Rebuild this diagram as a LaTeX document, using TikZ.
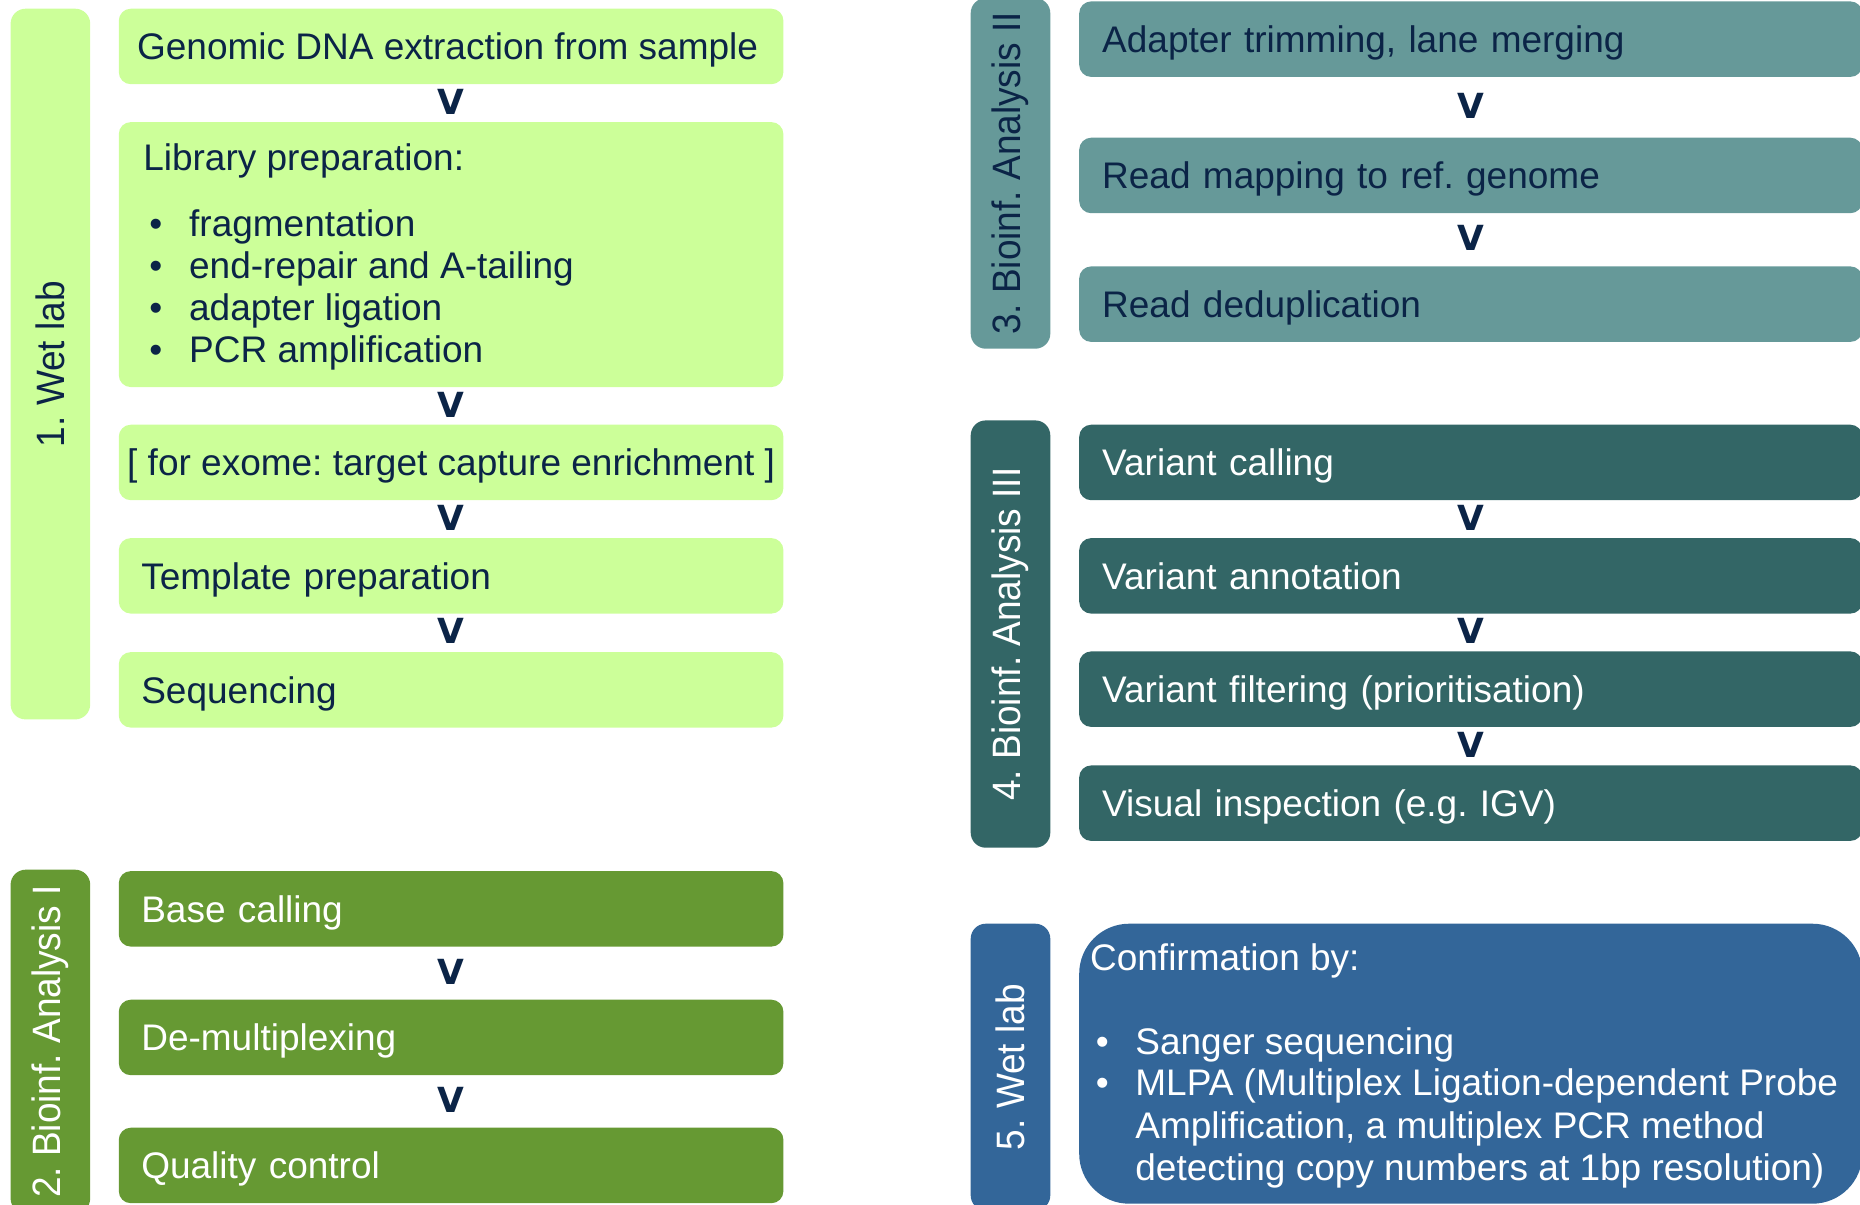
\documentclass[tikz,border=0pt]{standalone}
\usepackage{fontspec}
\setmainfont{Liberation Sans}
\newfontfamily\vmkfont{DejaVu Sans}
\usetikzlibrary{calc}
\definecolor{lgreen}{HTML}{CCFF99}
\definecolor{mgreen}{HTML}{669933}
\definecolor{tealc}{HTML}{669999}
\definecolor{dteal}{HTML}{336666}
\definecolor{blueb}{HTML}{336699}
\definecolor{navy}{HTML}{0B2447}
\newcommand\txtsize{\fontsize{18.5pt}{21pt}\selectfont}
\newcommand\vmksize{\vmkfont\fontsize{17.3pt}{19pt}\selectfont\bfseries}
\newcommand\labtxt[1]{\scalebox{1}[1.07]{#1}}
\frenchspacing
\begin{document}
\begin{tikzpicture}[x=0.5pt,y=-0.5pt,
  box/.style={anchor=north west, rounded corners=6pt, inner ysep=0pt,
    minimum height=37.75pt, align=left, font=\txtsize\frenchspacing,
    text height=13.3pt, text depth=0pt},
  lbox/.style={box, inner xsep=11.25pt, text width=309.8pt},
  rbox/.style={box, inner xsep=11.5pt, text width=368.6pt},
  bar/.style={anchor=north west, rounded corners=7.5pt, minimum width=39.8pt, inner sep=0pt},
  lab/.style={rotate=90, inner sep=0pt, font=\txtsize},
  txt/.style={anchor=base west, inner sep=0pt, font=\txtsize\frenchspacing},
  vmark/.style={font=\vmksize, text=navy, inner sep=0pt, yshift=0.75pt},
  lightbox/.style={fill=lgreen, text=navy},
  greenbox/.style={fill=mgreen, text=white},
  tealbox/.style={fill=tealc, text=navy},
  dtealbox/.style={fill=dteal, text=white},
  bluebox/.style={fill=blueb, text=white}]
\useasboundingbox (0,0) rectangle (1860,1205);
\clip (0,0) rectangle (1860,1205);

% ---- side bars
\node[bar, lightbox, minimum height=355.35pt] (bar1) at (10.2,8.3) {};
\node[lab, text=navy] (l1) at (bar1.center) {\labtxt{1. Wet lab}};
\node[bar, greenbox, minimum height=171.85pt] (bar2) at (10.2,869.3) {};
\node[lab, text=white] (l2) at (bar2.center) {\labtxt{2. Bioinf. Analysis I}};
\node[bar, tealbox, minimum height=175.3pt] (bar3) at (970.3,-2.3) {};
\node[lab, text=navy] (l3) at (bar3.center) {\labtxt{3. Bioinf. Analysis II}};
\node[bar, dtealbox, minimum height=213.65pt] (bar4) at (970.3,420) {};
\node[lab, text=white] (l4) at (bar4.center) {\labtxt{4. Bioinf. Analysis III}};
\node[bar, bluebox, minimum height=143.35pt] (bar5) at (970.3,923.3) {};
\node[lab, text=white] (l5) at (bar5.center) {\labtxt{5. Wet lab}};

% ---- left column: wet lab
\node[box, lightbox, inner xsep=9.15pt, minimum width=332.3pt] (gen) at (118.4,8.3) {\makebox[314pt][l]{Genomic DNA extraction from sample}};
\node[box, lightbox, minimum width=332.3pt, minimum height=132.5pt, text height=, text depth=] (lib) at (118.4,121.7) {};
\node[txt, text=navy] (libt) at (142.9,170.7) {Library preparation:};
\node[txt, text=navy] (li1) at (149,236.7) {\makebox[19.9pt][l]{•}fragmentation};
\node[txt, text=navy] (li2) at (149,278.3) {\makebox[19.9pt][l]{•}end-repair and A-tailing};
\node[txt, text=navy] (li3) at (149,320) {\makebox[19.9pt][l]{•}adapter ligation};
\node[txt, text=navy] (li4) at (149,362.7) {\makebox[19.9pt][l]{•}PCR amplification};
\node[box, lightbox, minimum width=332.3pt, inner xsep=0pt] (exo) at (118.4,424.3) {\makebox[332.3pt][c]{[ for exome: target capture enrichment ]}};
\node[lbox, lightbox] (tmp) at (118.4,537.7) {Template preparation};
\node[lbox, lightbox] (seq) at (118.4,651.7) {Sequencing};

\node[vmark] (v1) at ($(gen.south)!0.5!(lib.north)$) {V};
\node[vmark] (v2) at ($(lib.south)!0.5!(exo.north)$) {V};
\node[vmark] (v3) at ($(exo.south)!0.5!(tmp.north)$) {V};
\node[vmark] (v4) at ($(tmp.south)!0.5!(seq.north)$) {V};

% ---- left column: bioinf I
\node[lbox, greenbox] (base) at (118.4,870.7) {Base calling};
\node[lbox, greenbox] (demux) at (118.4,999.3) {De-multiplexing};
\node[lbox, greenbox] (qc) at (118.4,1127.3) {Quality control};
\node[vmark] (v5) at ($(base.south)!0.5!(demux.north)$) {V};
\node[vmark] (v6) at ($(demux.south)!0.5!(qc.north)$) {V};

% ---- right column: bioinf II
\node[rbox, tealbox] (adapt) at (1078.8,1) {Adapter trimming, lane merging};
\node[rbox, tealbox] (map) at (1078.8,137.3) {Read mapping to ref. genome};
\node[rbox, tealbox] (dedup) at (1078.8,266) {Read deduplication};
\node[vmark] (v7) at ($(adapt.south)!0.5!(map.north)$) {V};
\node[vmark] (v8) at ($(map.south)!0.5!(dedup.north)$) {V};

% ---- right column: bioinf III
\node[rbox, dtealbox] (vc) at (1078.8,424.3) {Variant calling};
\node[rbox, dtealbox] (va) at (1078.8,537.7) {Variant annotation};
\node[rbox, dtealbox] (vf) at (1078.8,651) {Variant filtering (prioritisation)};
\node[rbox, dtealbox] (vi) at (1078.8,765) {Visual inspection (e.g. IGV)};
\node[vmark] (v9) at ($(vc.south)!0.5!(va.north)$) {V};
\node[vmark] (v10) at ($(va.south)!0.5!(vf.north)$) {V};
\node[vmark] (v11) at ($(vf.south)!0.5!(vi.north)$) {V};

% ---- right column: wet lab confirmation
\node[box, bluebox, rounded corners=25pt, minimum width=391.6pt, minimum height=140pt, text height=, text depth=] (conf) at (1078.8,923.3) {};
\node[txt, text=white] (ct) at (1089.7,970) {Confirmation by:};
\node[txt, text=white] (c1) at (1095.5,1054) {\makebox[19.75pt][l]{•}Sanger sequencing};
\node[txt, text=white] (c2) at (1095.5,1095) {\makebox[19.75pt][l]{•}MLPA (Multiplex Ligation-dependent Probe};
\node[txt, text=white] (c3) at (1135,1138.3) {Amplification, a multiplex PCR method};
\node[txt, text=white] (c4) at (1135,1180) {detecting copy numbers at 1bp resolution)};
\end{tikzpicture}
\end{document}
